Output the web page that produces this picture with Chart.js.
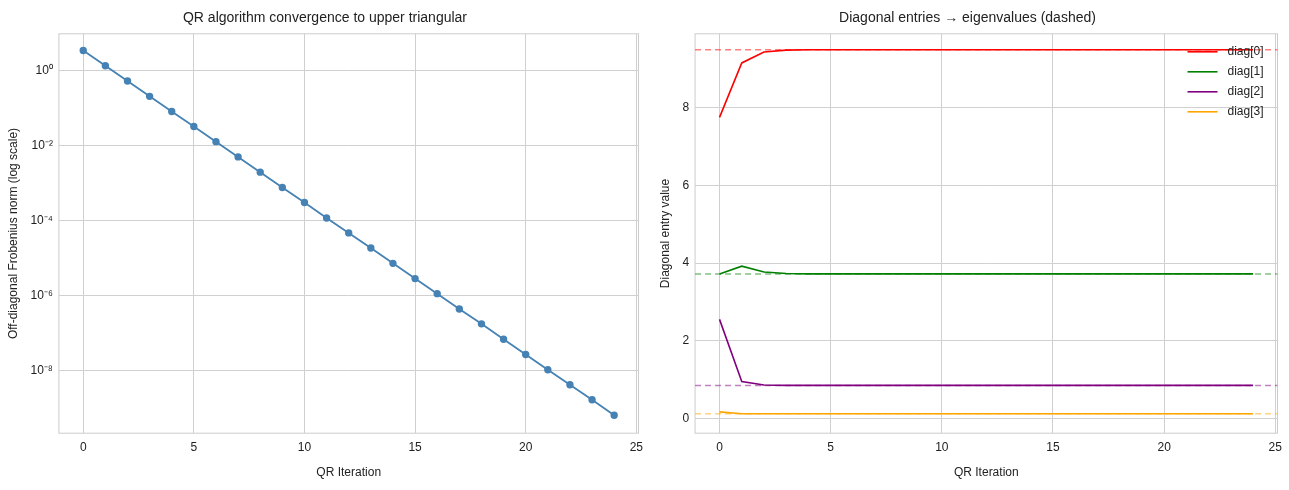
<!DOCTYPE html><html><head><meta charset="utf-8">
<script src="https://cdn.jsdelivr.net/npm/chart.js@4.4.0/dist/chart.umd.min.js"></script>
<style>body{margin:0;background:#fff}#a{position:absolute;left:0;top:0;width:650px;height:490px}#b{position:absolute;left:650px;top:0;width:639px;height:490px}</style></head><body>
<div id="a"><canvas id="c1"></canvas></div><div id="b"><canvas id="c2"></canvas></div>
<script>
const iters=[0,1,2,3,4,5,6,7,8,9,10,11,12,13,14,15,16,17,18,19,20,21,22,23,24];
const offNorm=[3.5,1.37,0.54,0.21,0.083,0.033,0.013,0.0051,0.002,7.8e-4,3.1e-4,1.2e-4,4.8e-5,1.9e-5,7.4e-6,2.9e-6,1.15e-6,4.5e-7,1.8e-7,7e-8,2.75e-8,1.08e-8,4.3e-9,1.7e-9,6.6e-10];
const diag0=[7.75,9.15,9.43,9.48,9.49,9.49,9.49,9.49,9.49,9.49,9.49,9.49,9.49,9.49,9.49,9.49,9.49,9.49,9.49,9.49,9.49,9.49,9.49,9.49,9.49];
const diag1=[3.72,3.92,3.77,3.73,3.72,3.72,3.72,3.72,3.72,3.72,3.72,3.72,3.72,3.72,3.72,3.72,3.72,3.72,3.72,3.72,3.72,3.72,3.72,3.72,3.72];
const diag2=[2.55,0.95,0.86,0.85,0.85,0.85,0.85,0.85,0.85,0.85,0.85,0.85,0.85,0.85,0.85,0.85,0.85,0.85,0.85,0.85,0.85,0.85,0.85,0.85,0.85];
const diag3=[0.17,0.12,0.12,0.12,0.12,0.12,0.12,0.12,0.12,0.12,0.12,0.12,0.12,0.12,0.12,0.12,0.12,0.12,0.12,0.12,0.12,0.12,0.12,0.12,0.12];
const eigen=[9.49,3.72,0.85,0.12];
const colors=['red','green','purple','orange'];
const dashCols=['rgba(255,0,0,0.5)','rgba(0,128,0,0.5)','rgba(128,0,128,0.5)','rgba(255,165,0,0.5)'];
const names=['diag[0]','diag[1]','diag[2]','diag[3]'];
Chart.defaults.font.family='"Liberation Sans", Arial, sans-serif';Chart.defaults.font.size=12;Chart.defaults.color='#222';
Chart.defaults.animation=false;Chart.defaults.responsive=true;Chart.defaults.maintainAspectRatio=false;
const sup={'0':'⁰','1':'¹','2':'²','3':'³','4':'⁴','5':'⁵','6':'⁶','7':'⁷','8':'⁸','9':'⁹','-':'⁻'};
const frame={id:'frame',beforeDraw(c){const a=c.chartArea,x=c.ctx;x.save();x.strokeStyle='#ccc';x.lineWidth=1;x.strokeRect(a.left,a.top,a.right-a.left,a.bottom-a.top);x.restore();}};
const grid={color:'#d0d0d0',drawTicks:false};
const xAxis={type:'linear',min:-1.1,max:25.1,grid:grid,border:{display:false},ticks:{padding:7,color:'#222'},afterBuildTicks(s){s.ticks=[0,5,10,15,20,25].map(v=>({value:v}));},title:{display:true,text:'QR Iteration',color:'#222',padding:{top:4,bottom:0}}};
const titleOpt=t=>({display:true,text:t,font:{size:14,weight:'normal'},color:'#222',padding:{top:10,bottom:7}});
new Chart(document.getElementById('c1'),{type:'line',data:{datasets:[{data:iters.map((x,i)=>({x,y:offNorm[i]})),borderColor:'steelblue',backgroundColor:'steelblue',pointRadius:2.8,borderWidth:1.8}]},
options:{layout:{padding:{left:2,right:2,bottom:10}},plugins:{legend:{display:false},title:titleOpt('QR algorithm convergence to upper triangular')},
scales:{x:xAxis,y:{type:'logarithmic',min:Math.pow(10,-9.66),max:Math.pow(10,0.99),grid:grid,border:{display:false},
afterBuildTicks(s){s.ticks=[0,-2,-4,-6,-8].map(e=>({value:Math.pow(10,e)}));},
ticks:{padding:6,color:'#222',callback(v){const e=Math.round(Math.log10(v));return '10'+String(e).split('').map(c=>sup[c]).join('');}},
title:{display:true,text:'Off-diagonal Frobenius norm (log scale)',color:'#222'}}}},plugins:[frame]});
const diags=[diag0,diag1,diag2,diag3];
const ds=[];
eigen.forEach((e,k)=>ds.push({data:[{x:-1.1,y:e},{x:25.1,y:e}],borderColor:dashCols[k],borderDash:[6,4],borderWidth:1.5,pointRadius:0}));
diags.forEach((d,k)=>ds.push({label:names[k],data:iters.map((x,i)=>({x,y:d[i]})),borderColor:colors[k],borderWidth:1.6,pointRadius:0}));
const legend={id:'leg',afterDraw(c){const a=c.chartArea,x=c.ctx;x.save();x.font='12px "Liberation Sans", Arial';x.textBaseline='middle';
names.forEach((n,k)=>{const y=a.top+18+k*20;const tx=a.right-50;x.strokeStyle=colors[k];x.lineWidth=1.6;x.beginPath();x.moveTo(tx-40,y);x.lineTo(tx-10,y);x.stroke();x.fillStyle='#222';x.fillText(n,tx,y);});x.restore();}};
new Chart(document.getElementById('c2'),{type:'line',data:{datasets:ds},
options:{layout:{padding:{left:4,right:8,bottom:10}},plugins:{legend:{display:false},title:titleOpt('Diagonal entries → eigenvalues (dashed)')},
scales:{x:xAxis,y:{type:'linear',min:-0.38,max:9.9,grid:grid,border:{display:false},afterBuildTicks(s){s.ticks=[0,2,4,6,8].map(v=>({value:v}));},ticks:{padding:6,color:'#222'},
title:{display:true,text:'Diagonal entry value',color:'#222'}}}},plugins:[frame,legend]});
</script></body></html>
